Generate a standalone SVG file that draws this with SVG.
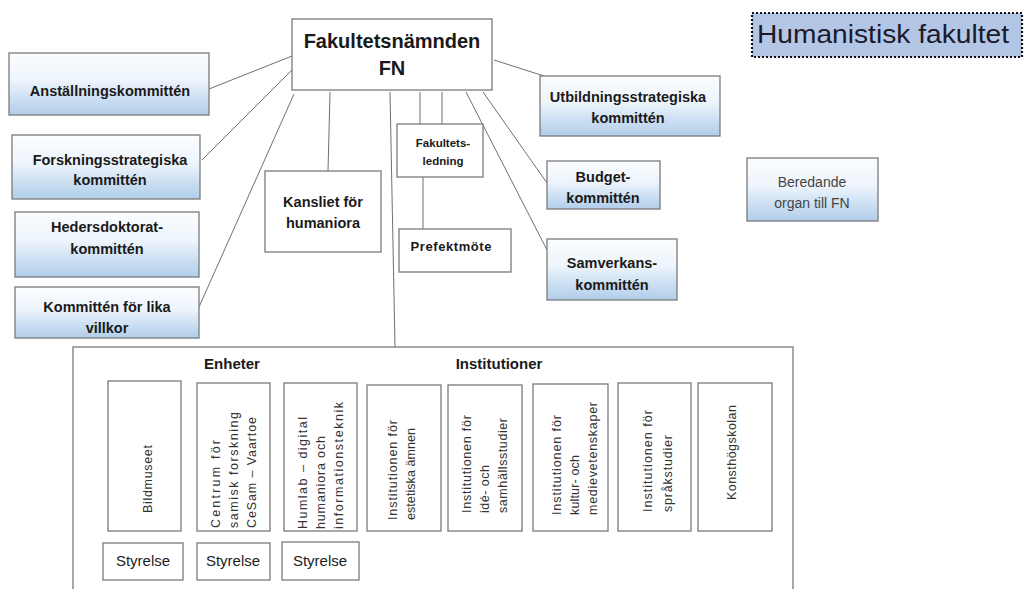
<svg xmlns="http://www.w3.org/2000/svg" width="1024" height="589" viewBox="0 0 1024 589">
<defs>
<linearGradient id="blue" x1="0" y1="0" x2="0" y2="1">
<stop offset="0" stop-color="#fbfdff"/>
<stop offset="0.45" stop-color="#edf4fb"/>
<stop offset="0.75" stop-color="#cadef2"/>
<stop offset="1" stop-color="#b2ceeb"/>
</linearGradient>
<style>
.box{fill:#fff;stroke:#7a7a7a;stroke-width:1.3}
.bbox{fill:url(#blue);stroke:#7a7a7a;stroke-width:1.3}
.b{font-family:"Liberation Sans",Arial,sans-serif;font-weight:bold;fill:#1a1a1a;text-anchor:middle;font-size:14.5px}
.s{font-family:"Liberation Sans",Arial,sans-serif;font-weight:bold;fill:#1a1a1a;text-anchor:middle;font-size:11.5px}
.n{font-family:"Liberation Sans",Arial,sans-serif;fill:#222;text-anchor:middle;font-size:15px}
.r{font-family:"Liberation Sans",Arial,sans-serif;fill:#333;font-size:12.5px}
.c line{stroke:#707070;stroke-width:1}
</style>
</defs>
<rect width="1024" height="589" fill="#fff"/>

<g class="c" id="connectors">
<line x1="292" y1="56" x2="209" y2="89"/>
<line x1="292" y1="70" x2="202" y2="160"/>
<line x1="294" y1="94" x2="199" y2="307"/>
<line x1="330" y1="92" x2="328" y2="171"/>
<line x1="390" y1="92" x2="395" y2="347"/>
<line x1="420" y1="92" x2="420" y2="124"/>
<line x1="442" y1="92" x2="442" y2="124"/>
<line x1="423" y1="177" x2="423" y2="229"/>
<line x1="466" y1="92" x2="547" y2="250"/>
<line x1="483" y1="92" x2="547" y2="183"/>
<line x1="494" y1="60" x2="544" y2="76"/>
</g>

<g id="title">
<rect x="752" y="13" width="270" height="44" fill="#b4c6e6" stroke="#111" stroke-width="2.2" stroke-dasharray="2,2"/>
<text x="757" y="43" font-family="Liberation Sans,Arial,sans-serif" font-size="26" fill="#1a1a2a" textLength="252" lengthAdjust="spacingAndGlyphs">Humanistisk fakultet</text>
</g>

<g id="fn">
<rect class="box" x="292" y="19" width="200" height="71"/>
<text class="b" x="392" y="48" style="font-size:20px">Fakultetsnämnden</text>
<text class="b" x="392" y="75" style="font-size:20px">FN</text>
</g>

<g id="anstallning">
<rect class="bbox" x="9" y="53" width="200" height="62"/>
<text class="b" x="110" y="96">Anställningskommittén</text>
</g>
<g id="forskning">
<rect class="bbox" x="12" y="135" width="188" height="64"/>
<text class="b" x="110" y="165">Forskningsstrategiska</text>
<text class="b" x="110" y="185">kommittén</text>
</g>
<g id="hedersdoktorat">
<rect class="bbox" x="15" y="212" width="184" height="65"/>
<text class="b" x="107" y="232">Hedersdoktorat-</text>
<text class="b" x="107" y="254">kommittén</text>
</g>
<g id="likavillkor">
<rect class="bbox" x="15" y="287" width="184" height="51"/>
<text class="b" x="107" y="312">Kommittén för lika</text>
<text class="b" x="107" y="333">villkor</text>
</g>
<g id="kansliet">
<rect class="box" x="265" y="171" width="116" height="81"/>
<text class="b" x="323" y="207">Kansliet för</text>
<text class="b" x="323" y="228">humaniora</text>
</g>
<g id="fakultetsledning">
<rect class="box" x="397" y="124" width="86" height="53"/>
<text class="s" x="443" y="147">Fakultets-</text>
<text class="s" x="443" y="165">ledning</text>
</g>
<g id="prefektmote">
<rect class="box" x="399" y="229" width="112" height="43"/>
<text class="s" x="451" y="251" style="font-size:13px" textLength="81">Prefektmöte</text>
</g>
<g id="utbildning">
<rect class="bbox" x="540" y="76" width="180" height="60"/>
<text class="b" x="628" y="102">Utbildningsstrategiska</text>
<text class="b" x="628" y="123">kommittén</text>
</g>
<g id="budget">
<rect class="bbox" x="547" y="161" width="113" height="48"/>
<text class="b" x="603" y="182">Budget-</text>
<text class="b" x="603" y="203">kommittén</text>
</g>
<g id="samverkan">
<rect class="bbox" x="547" y="239" width="130" height="61"/>
<text class="b" x="612" y="268">Samverkans-</text>
<text class="b" x="612" y="290">kommittén</text>
</g>
<g id="beredande">
<rect class="bbox" x="747" y="158" width="131" height="63"/>
<text class="n" x="812" y="187" style="fill:#444;font-size:14px">Beredande</text>
<text class="n" x="812" y="208" style="fill:#444;font-size:14px">organ till FN</text>
</g>

<g id="container">
<rect class="box" x="73" y="347" width="720" height="260"/>
<text class="b" x="232" y="369" style="font-size:15px">Enheter</text>
<text class="b" x="499" y="369" style="font-size:15px">Institutioner</text>
</g>

<g id="bildmuseet">
<rect class="box" x="108" y="381" width="73" height="150"/>
<text class="r" transform="translate(152,513) rotate(-90)" textLength="68">Bildmuseet</text>
</g>
<g id="cesam">
<rect class="box" x="197" y="383" width="73" height="148"/>
<text class="r" transform="translate(220,528) rotate(-90)" textLength="88">Centrum för</text>
<text class="r" transform="translate(238,528) rotate(-90)" textLength="116">samisk forskning</text>
<text class="r" transform="translate(256,528) rotate(-90)" textLength="111">CeSam – Vaartoe</text>
</g>
<g id="humlab">
<rect class="box" x="284" y="383" width="73" height="148"/>
<text class="r" transform="translate(307,529) rotate(-90)" textLength="112">Humlab – digital</text>
<text class="r" transform="translate(325,529) rotate(-90)" textLength="93">humaniora och</text>
<text class="r" transform="translate(343,529) rotate(-90)" textLength="127">informationsteknik</text>
</g>
<g id="estetiska">
<rect class="box" x="367" y="385" width="74" height="146"/>
<text class="r" transform="translate(397,520) rotate(-90)" textLength="100">Institutionen för</text>
<text class="r" transform="translate(415,520) rotate(-90)" textLength="92">estetiska ämnen</text>
</g>
<g id="ide">
<rect class="box" x="448" y="385" width="74" height="146"/>
<text class="r" transform="translate(471,513) rotate(-90)" textLength="98">Institutionen för</text>
<text class="r" transform="translate(489,513) rotate(-90)" textLength="48">idé- och</text>
<text class="r" transform="translate(507,513) rotate(-90)" textLength="95">samhällsstudier</text>
</g>
<g id="kultur">
<rect class="box" x="533" y="384" width="75" height="147"/>
<text class="r" transform="translate(561,515) rotate(-90)" textLength="100">Institutionen för</text>
<text class="r" transform="translate(579,515) rotate(-90)" textLength="60">kultur- och</text>
<text class="r" transform="translate(597,515) rotate(-90)" textLength="113">medievetenskaper</text>
</g>
<g id="sprak">
<rect class="box" x="618" y="383" width="73" height="148"/>
<text class="r" transform="translate(652,512) rotate(-90)" textLength="102">Institutionen för</text>
<text class="r" transform="translate(672,512) rotate(-90)" textLength="77">språkstudier</text>
</g>
<g id="konsthogskolan">
<rect class="box" x="698" y="383" width="74" height="148"/>
<text class="r" transform="translate(736,500) rotate(-90)" textLength="95">Konsthögskolan</text>
</g>

<g id="styrelse1">
<rect class="box" x="103" y="543" width="80" height="37"/>
<text class="n" x="143" y="566">Styrelse</text>
</g>
<g id="styrelse2">
<rect class="box" x="197" y="543" width="73" height="37"/>
<text class="n" x="233" y="566">Styrelse</text>
</g>
<g id="styrelse3">
<rect class="box" x="282" y="542" width="77" height="38"/>
<text class="n" x="320" y="566">Styrelse</text>
</g>
</svg>
